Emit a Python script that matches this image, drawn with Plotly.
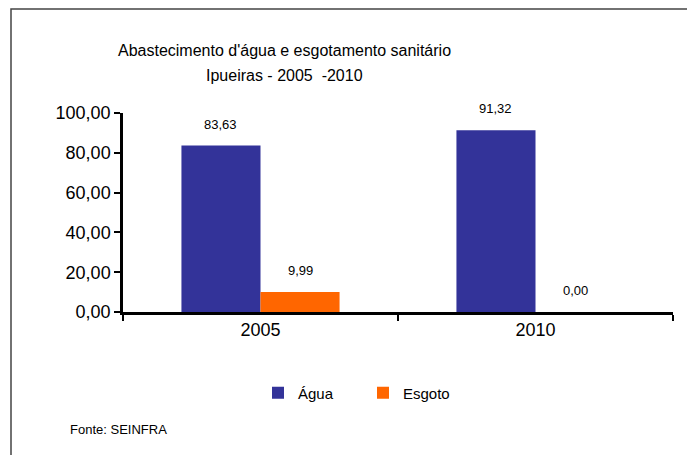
import plotly.graph_objects as go

years = ["2005", "2010"]
agua = [83.63, 91.32]
esgoto = [9.99, 0.00]
series_names = ["Água", "Esgoto"]
colors = ["#333399", "#FF6600"]
title_lines = ["Abastecimento d'água e esgotamento sanitário", "Ipueiras - 2005  -2010"]
source = "Fonte: SEINFRA"

W, H = 687, 455
L, R, T, B = 123, 14, 113, 143
pw, ph = W - L - R, H - T - B
bargap = 0.425
FONT = "Liberation Sans, Arial, sans-serif"

def fmt(v):
    return f"{v:.2f}".replace(".", ",")

fig = go.Figure()
for name, vals, c in zip(series_names, [agua, esgoto], colors):
    fig.add_trace(go.Bar(x=years, y=vals, name=name, marker=dict(color=c, line=dict(width=0))))

annotations = []
bw = (1 - bargap) / 2
for si, vals in enumerate([agua, esgoto]):
    off = (si - 0.5) * bw
    for i, v in enumerate(vals):
        annotations.append(dict(x=i + off, y=v, xref="x", yref="y", text=fmt(v),
                                showarrow=False, yanchor="bottom", yshift=12,
                                font=dict(size=13, color="#000", family=FONT)))

def px_x(p):
    return (p - L) / pw

def px_y(p):
    return (H - B - p) / ph

annotations.append(dict(x=px_x(284), y=px_y(50), xref="paper", yref="paper", text=title_lines[0],
                        showarrow=False, xanchor="center", yanchor="middle",
                        font=dict(size=16, color="#000", family=FONT)))
annotations.append(dict(x=px_x(284), y=px_y(75), xref="paper", yref="paper", text=title_lines[1],
                        showarrow=False, xanchor="center", yanchor="middle",
                        font=dict(size=16, color="#000", family=FONT)))
annotations.append(dict(x=px_x(68), y=px_y(429), xref="paper", yref="paper", text=source,
                        showarrow=False, xanchor="left", yanchor="middle",
                        font=dict(size=13, color="#000", family=FONT)))

shapes = [dict(type="rect", xref="paper", yref="paper", x0=px_x(11), y0=px_y(H + 20),
               x1=px_x(W + 20), y1=px_y(9), line=dict(color="#444", width=1.5), layer="below")]

fig.update_layout(
    width=W, height=H,
    margin=dict(l=L, r=R, t=T, b=B),
    paper_bgcolor="white", plot_bgcolor="white",
    barmode="group", bargap=bargap, bargroupgap=0,
    separators=",.",
    font=dict(family=FONT, color="#000"),
    showlegend=True,
    legend=dict(orientation="h", x=px_x(363), y=px_y(393), xanchor="center", yanchor="middle",
                font=dict(size=15, color="#000", family=FONT), itemwidth=30,
                entrywidth=60, bgcolor="rgba(0,0,0,0)"),
    annotations=annotations,
    shapes=shapes,
    xaxis=dict(showline=True, linecolor="#000", linewidth=2.5, ticks="outside", tickson="boundaries",
               ticklen=6, tickwidth=2, tickcolor="#000", showgrid=False,
               tickfont=dict(size=18, color="#000", family=FONT)),
    yaxis=dict(range=[0, 100], dtick=20, tickformat=".2f", showline=True, linecolor="#000",
               linewidth=2.5, ticks="outside", ticklen=6, tickwidth=2, tickcolor="#000",
               showgrid=False, zeroline=False,
               tickfont=dict(size=18, color="#000", family=FONT)),
)

fig.write_html("out.html", config={"displayModeBar": False},
               post_script="document.body.style.margin='0';document.body.style.overflow='hidden';")
